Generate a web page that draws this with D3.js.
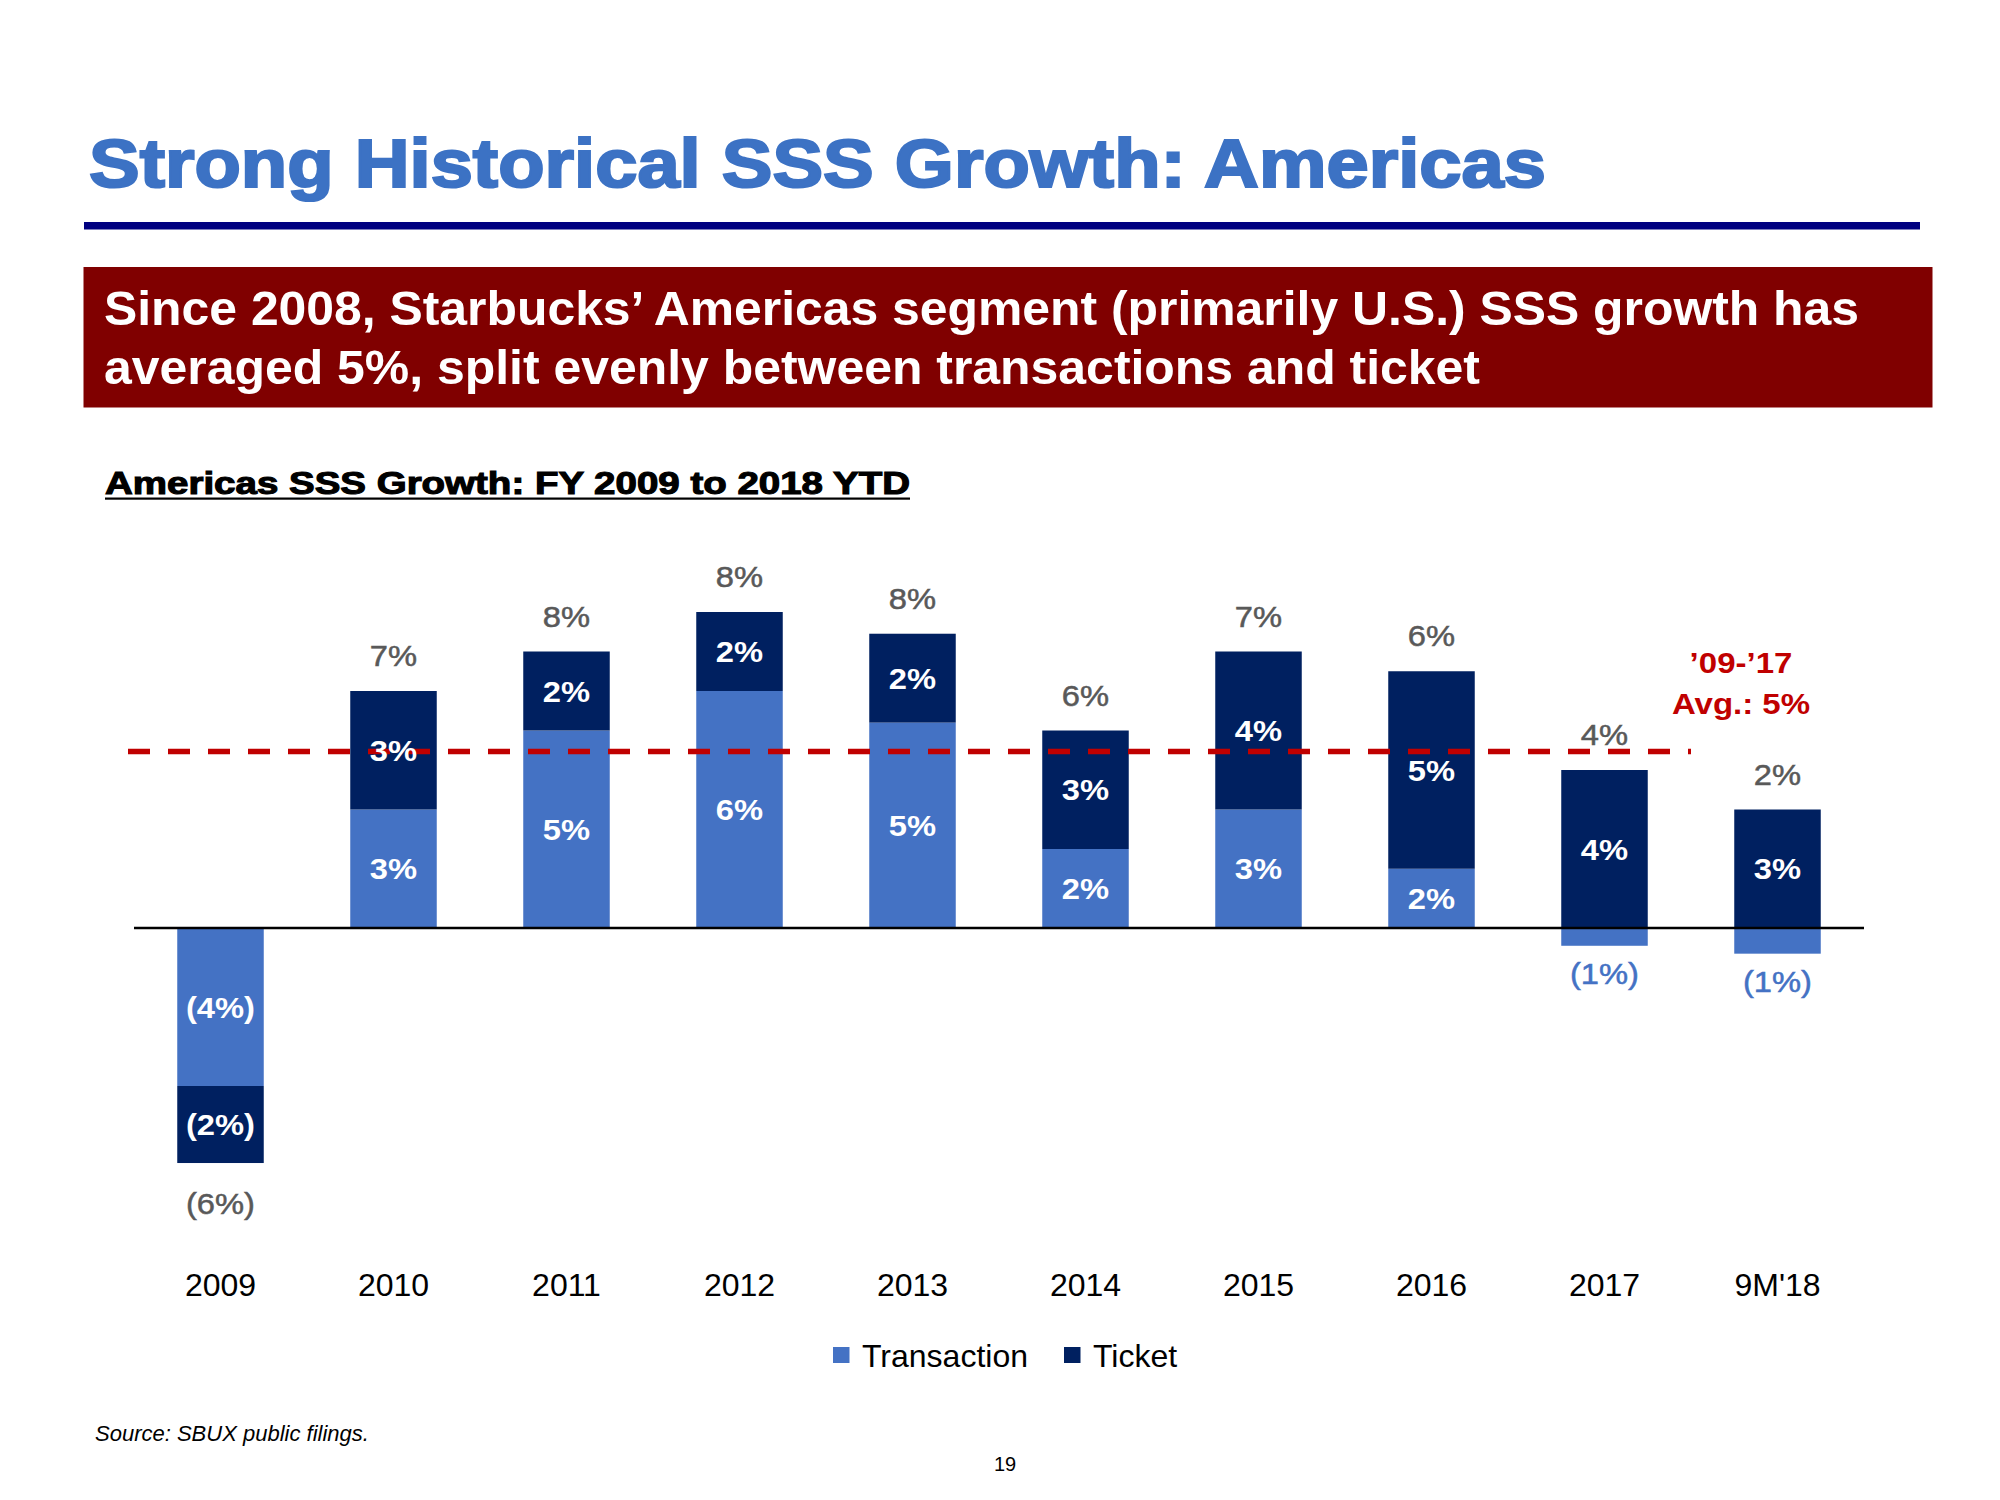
<!DOCTYPE html>
<html>
<head>
<meta charset="utf-8">
<script src="https://cdn.jsdelivr.net/npm/d3@7"></script>
<style>
  html, body { margin: 0; padding: 0; background: #ffffff; }
  svg { display: block; }
  text { font-family: "Liberation Sans", Arial, sans-serif; }
</style>
</head>
<body>
<svg id="chart" width="2000" height="1500"></svg>
<script>
// ---------- data ----------
const categories = ["2009", "2010", "2011", "2012", "2013", "2014", "2015", "2016", "2017", "9M'18"];
const transaction = [-4, 3, 5, 6, 5.2, 2, 3, 1.5, -0.45, -0.65];
const ticket = [-1.95, 3, 2, 2, 2.25, 3, 4, 5, 4, 3];
const transactionLabels = ["(4%)", "3%", "5%", "6%", "5%", "2%", "3%", "2%", "(1%)", "(1%)"];
const ticketLabels = ["(2%)", "3%", "2%", "2%", "2%", "3%", "4%", "5%", "4%", "3%"];
const totalLabels = ["(6%)", "7%", "8%", "8%", "8%", "6%", "7%", "6%", "4%", "2%"];
const seriesNames = ["Transaction", "Ticket"];
const averageValue = 4.47;
const averageEndCategory = "2017";
const averageLabelLines = ["\u201909-\u201917", "Avg.: 5%"];

const titleText = "Strong Historical SSS Growth: Americas";
const bannerLines = ["Since 2008, Starbucks\u2019 Americas segment (primarily U.S.) SSS growth has",
                     "averaged 5%, split evenly between transactions and ticket"];
const chartTitle = "Americas SSS Growth: FY 2009 to 2018 YTD";
const sourceText = "Source: SBUX public filings.";
const pageNumber = "19";

// ---------- styles ----------
const colors = { Transaction: "#4472C4", Ticket: "#002060" };
const svg = d3.select("#chart");

function stretch(sel, k) {
  sel.each(function () {
    const len = this.getComputedTextLength();
    d3.select(this).attr("textLength", len * k).attr("lengthAdjust", "spacingAndGlyphs");
  });
}

// ---------- header ----------
svg.append("text")
  .attr("x", 89).attr("y", 187)
  .attr("font-size", 68).attr("font-weight", "bold")
  .attr("fill", "#3C72C4").attr("stroke", "#3C72C4").attr("stroke-width", 2.2)
  .attr("textLength", 1457).attr("lengthAdjust", "spacingAndGlyphs")
  .text(titleText);

svg.append("rect").attr("x", 84).attr("y", 222).attr("width", 1836).attr("height", 7.5).attr("fill", "#000080");

svg.append("rect").attr("x", 83.5).attr("y", 267).attr("width", 1849).attr("height", 140.5).attr("fill", "#800000");

const bannerWidths = [1755, 1376];
bannerLines.forEach((t, i) => {
  svg.append("text")
    .attr("x", 104).attr("y", 325 + i * 58.5)
    .attr("font-size", 48).attr("font-weight", "bold").attr("fill", "#ffffff")
    .attr("textLength", bannerWidths[i]).attr("lengthAdjust", "spacingAndGlyphs")
    .text(t);
});

svg.append("text")
  .attr("x", 105).attr("y", 494)
  .attr("font-size", 31).attr("font-weight", "bold")
  .attr("fill", "#000").attr("stroke", "#000").attr("stroke-width", 1.1)
  .attr("textLength", 805).attr("lengthAdjust", "spacingAndGlyphs")
  .text(chartTitle);
svg.append("rect").attr("x", 105).attr("y", 497.5).attr("width", 805).attr("height", 2.2).attr("fill", "#000");

// ---------- chart ----------
const rows = categories.map((c, i) => ({ cat: c, Transaction: transaction[i], Ticket: ticket[i], i }));
const stacked = d3.stack().keys(seriesNames).offset(d3.stackOffsetDiverging)(rows);

const x = d3.scaleBand().domain(categories).range([134, 1864]).paddingInner(0.5).paddingOuter(0.25);
const y = d3.scaleLinear().domain([-6, 8]).range([928 + 6 * 39.5, 928 - 8 * 39.5]);

const g = svg.append("g");

stacked.forEach(s => {
  g.selectAll(null).data(s).join("rect")
    .attr("x", d => x(d.data.cat))
    .attr("width", x.bandwidth())
    .attr("y", d => y(Math.max(d[0], d[1])))
    .attr("height", d => Math.abs(y(d[0]) - y(d[1])))
    .attr("fill", colors[s.key]);
});

// zero line
g.append("line")
  .attr("x1", x.range()[0]).attr("x2", x.range()[1])
  .attr("y1", y(0)).attr("y2", y(0))
  .attr("stroke", "#000").attr("stroke-width", 2.6);

// average dashed line
const avgEnd = x(averageEndCategory) + x.bandwidth() / 2 + x.step() / 2;
g.append("line")
  .attr("x1", 128).attr("x2", avgEnd)
  .attr("y1", y(averageValue)).attr("y2", y(averageValue))
  .attr("stroke", "#C00000").attr("stroke-width", 5.5)
  .attr("stroke-dasharray", "22,18");

// segment labels
const segLabels = { Transaction: transactionLabels, Ticket: ticketLabels };
stacked.forEach(s => {
  const outside = d => Math.abs(y(d[0]) - y(d[1])) < 35;
  const t = g.selectAll(null).data(s).join("text")
    .attr("x", d => x(d.data.cat) + x.bandwidth() / 2)
    .attr("y", d => outside(d) ? y(Math.min(d[0], d[1])) + 38 : (y(d[0]) + y(d[1])) / 2 + 10.5)
    .attr("text-anchor", "middle")
    .attr("font-size", 30)
    .attr("font-weight", d => outside(d) ? "normal" : "bold")
    .attr("fill", d => outside(d) ? colors[s.key] : "#ffffff")
    .attr("stroke", d => outside(d) ? colors[s.key] : "none")
    .attr("stroke-width", 0.5)
    .text(d => segLabels[s.key][d.data.i]);
  stretch(t, 1.09);
});

// total labels
const totals = g.selectAll(null).data(rows).join("text")
  .attr("x", d => x(d.cat) + x.bandwidth() / 2)
  .attr("y", d => {
    const pos = Math.max(0, d.Transaction) + Math.max(0, d.Ticket);
    const neg = Math.min(0, d.Transaction) + Math.min(0, d.Ticket);
    const total = d.Transaction + d.Ticket;
    return total >= 0 ? y(pos) - 25 : y(neg) + 51;
  })
  .attr("text-anchor", "middle")
  .attr("font-size", 30)
  .attr("fill", "#595959")
  .attr("stroke", "#595959").attr("stroke-width", 0.5)
  .text(d => totalLabels[d.i]);
stretch(totals, 1.09);

// average annotation
averageLabelLines.forEach((t, i) => {
  const a = g.append("text")
    .attr("x", 1741).attr("y", 673 + i * 41)
    .attr("text-anchor", "middle")
    .attr("font-size", 30).attr("font-weight", "bold")
    .attr("fill", "#C00000")
    .text(t);
  stretch(a, 1.1);
});

// x axis
const axis = svg.append("g")
  .attr("transform", "translate(0,1296)")
  .call(d3.axisBottom(x).tickSize(0).tickPadding(0));
axis.select(".domain").remove();
axis.selectAll("text")
  .attr("y", 0).attr("dy", null)
  .attr("font-size", 32)
  .attr("font-family", "Liberation Sans, Arial, sans-serif")
  .attr("fill", "#000");

// legend
const legendX = [833, 1064];
const legend = svg.append("g");
seriesNames.forEach((name, i) => {
  legend.append("rect")
    .attr("x", legendX[i]).attr("y", 1347).attr("width", 16.5).attr("height", 16)
    .attr("fill", colors[name]);
  legend.append("text")
    .attr("x", legendX[i] + 29).attr("y", 1367)
    .attr("font-size", 32).attr("fill", "#000")
    .text(name);
});

// footer
svg.append("text")
  .attr("x", 95).attr("y", 1441)
  .attr("font-size", 22).attr("font-style", "italic").attr("fill", "#000")
  .text(sourceText);
svg.append("text")
  .attr("x", 1005).attr("y", 1471)
  .attr("text-anchor", "middle")
  .attr("font-size", 20).attr("fill", "#000")
  .text(pageNumber);
</script>
</body>
</html>
